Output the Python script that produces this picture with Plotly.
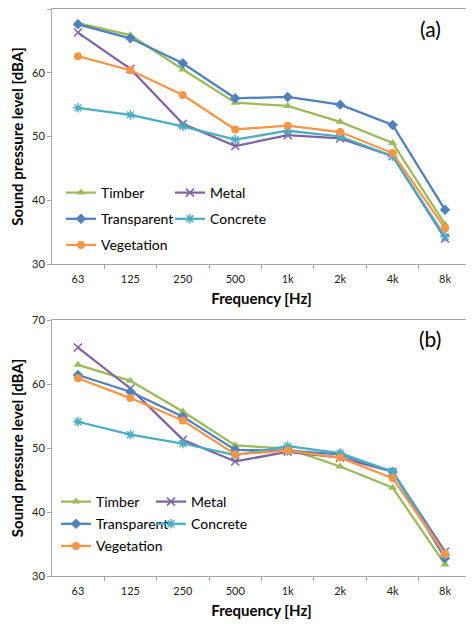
import plotly.graph_objects as go

freqs = ["63", "125", "250", "500", "1k", "2k", "4k", "8k"]
series_names = ["Timber", "Metal", "Transparent", "Concrete", "Vegetation"]

# Panel (a)
a_timber = [67.8, 65.9, 60.5, 55.3, 54.8, 52.3, 49.0, 36.2]
a_metal = [66.3, 60.6, 52.0, 48.5, 50.2, 49.7, 46.9, 34.0]
a_transparent = [67.6, 65.4, 61.5, 56.0, 56.2, 55.0, 51.8, 38.5]
a_concrete = [54.5, 53.4, 51.6, 49.5, 50.9, 50.0, 46.9, 34.3]
a_vegetation = [62.6, 60.4, 56.5, 51.1, 51.7, 50.7, 47.4, 35.6]

# Panel (b)
b_timber = [63.0, 60.5, 55.7, 50.4, 49.9, 47.1, 43.8, 31.8]
b_metal = [65.7, 59.3, 51.3, 47.9, 49.4, 48.5, 46.3, 33.8]
b_transparent = [61.4, 58.8, 54.9, 49.7, 49.6, 49.0, 46.3, 32.8]
b_concrete = [54.1, 52.1, 50.7, 48.9, 50.3, 49.2, 46.3, 33.3]
b_vegetation = [60.9, 57.8, 54.3, 49.0, 49.6, 48.5, 45.3, 33.4]

colors = {"Timber": "#9BBB59", "Metal": "#8064A2", "Transparent": "#4F81BD",
          "Concrete": "#4BACC6", "Vegetation": "#F79646"}
symbols = {"Timber": "triangle-up", "Metal": "x-thin", "Transparent": "diamond",
           "Concrete": "asterisk", "Vegetation": "circle"}

FONT = "Lato"
OFF = 8  # default page body margin
W, H = 466, 616
ML, MR, MT, MB = 44, 3, 1, 48
ph = H - MT - MB
pw = W - ML - MR

def fy(py):  # screen px from top -> paper y
    return (H - MB - (py - OFF)) / ph

def fx(px):  # screen px from left -> paper x
    return (px - OFF - ML) / pw

fig = go.Figure()

panels = [
    ("a", [a_timber, a_metal, a_transparent, a_concrete, a_vegetation], "x", "y",
     {"Timber": "legend", "Transparent": "legend", "Vegetation": "legend",
      "Metal": "legend2", "Concrete": "legend2"}),
    ("b", [b_timber, b_metal, b_transparent, b_concrete, b_vegetation], "x2", "y2",
     {"Timber": "legend3", "Transparent": "legend3", "Vegetation": "legend3",
      "Metal": "legend4", "Concrete": "legend4"}),
]

for tag, data, xa, ya, legmap in panels:
    for name, vals in zip(series_names, data):
        sym = symbols[name]
        open_sym = sym in ("x-thin", "asterisk")
        marker = dict(symbol=sym, size=8, color=colors[name])
        if open_sym:
            marker["line"] = dict(width=1.5, color=colors[name])
        fig.add_trace(go.Scatter(
            x=freqs, y=vals, name=name, mode="lines+markers",
            line=dict(color=colors[name], width=2.25),
            marker=marker, xaxis=xa, yaxis=ya,
            legend=legmap[name], legendgroup=tag + name,
        ))

axis_common = dict(showline=True, linecolor="#A6A6A6", linewidth=1, mirror=True,
                   showgrid=False, zeroline=False, ticks="outside", ticklen=4,
                   tickcolor="#A6A6A6", tickfont=dict(family=FONT, size=11, color="#222"))

xcommon = dict(axis_common, type="category", tickson="boundaries", tickangle=0,
               categoryorder="array", categoryarray=freqs, ticklabelstandoff=5,
               title=dict(text="<b>Frequency [Hz]</b>", font=dict(family=FONT, size=15, color="#000"), standoff=9))
ycommon = dict(axis_common, range=[30, 70], dtick=10, tick0=30,
               title=dict(text="<b>Sound pressure level [dBA]</b>", font=dict(family=FONT, size=15, color="#000"), standoff=13))

fig.update_layout(
    width=W, height=H,
    margin=dict(l=ML, r=MR, t=MT, b=MB, autoexpand=False),
    paper_bgcolor="white", plot_bgcolor="white",
    xaxis=dict(xcommon, domain=[0, 1], anchor="y"),
    yaxis=dict(ycommon, domain=[fy(264), 1], anchor="x"),
    xaxis2=dict(xcommon, domain=[0, 1], anchor="y2"),
    yaxis2=dict(ycommon, domain=[0, fy(320)], anchor="x2"),
)

leg_font = dict(family=FONT, size=14, color="#000")
def leg(xpx, ypx, gap):
    return dict(xref="paper", yref="paper", x=fx(xpx), y=fy(ypx),
                xanchor="left", yanchor="top", bgcolor="rgba(0,0,0,0)",
                font=leg_font, traceorder="grouped", tracegroupgap=gap,
                orientation="v")

fig.update_layout(
    legend=leg(61, 177, 5),
    legend2=leg(170, 177, 5),
    legend3=leg(56, 486, 1),
    legend4=leg(151, 486, 1),
)

fig.add_annotation(text="(a)", xref="paper", yref="paper", x=fx(430), y=fy(28),
                   xanchor="center", yanchor="middle",
                   showarrow=False, font=dict(family=FONT, size=21, color="#000"))
fig.add_annotation(text="(b)", xref="paper", yref="paper", x=fx(430), y=fy(338),
                   xanchor="center", yanchor="middle",
                   showarrow=False, font=dict(family=FONT, size=21, color="#000"))

fig.write_html("out.html")
